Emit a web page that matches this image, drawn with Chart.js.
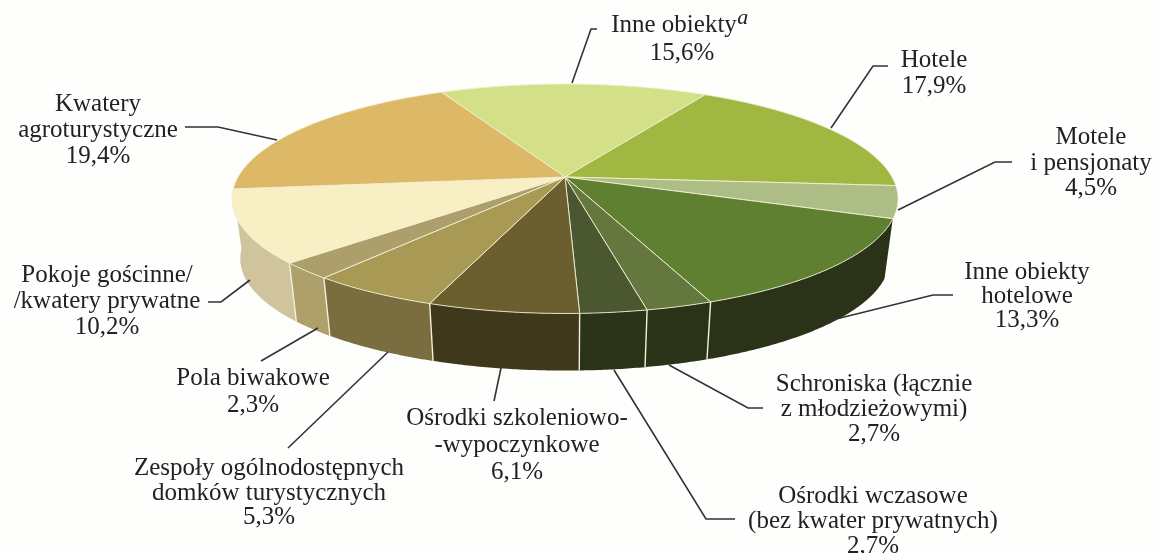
<!DOCTYPE html>
<html>
<head>
<meta charset="utf-8">
<title>Struktura obiektów</title>
<script src="https://cdn.jsdelivr.net/npm/chart.js@4/dist/chart.umd.min.js"></script>
<style>
  html, body { margin: 0; padding: 0; background: #fefefc; overflow: hidden; }
  canvas { display: block; }
</style>
</head>
<body>
<canvas id="pieChart" width="1156" height="553"></canvas>
<script>
const categories = [
  "Inne obiekty", "Hotele", "Motele i pensjonaty", "Inne obiekty hotelowe",
  "Schroniska (łącznie z młodzieżowymi)", "Ośrodki wczasowe (bez kwater prywatnych)",
  "Ośrodki szkoleniowo-wypoczynkowe", "Zespoły ogólnodostępnych domków turystycznych",
  "Pola biwakowe", "Pokoje gościnne/kwatery prywatne", "Kwatery agroturystyczne"
];
const shares = [15.6, 17.9, 4.5, 13.3, 2.7, 2.7, 6.1, 5.3, 2.3, 10.2, 19.4];
const labelLines = [
  ["Inne obiekty"], ["Hotele"], ["Motele", "i pensjonaty"], ["Inne obiekty", "hotelowe"],
  ["Schroniska (łącznie", "z młodzieżowymi)"], ["Ośrodki wczasowe", "(bez kwater prywatnych)"],
  ["Ośrodki szkoleniowo-", "-wypoczynkowe"], ["Zespoły ogólnodostępnych", "domków turystycznych"],
  ["Pola biwakowe"], ["Pokoje gościnne/", "/kwatery prywatne"], ["Kwatery", "agroturystyczne"]
];
const topColors = ["#d3e087", "#a0b842", "#acbd85", "#5e8030", "#64773f", "#4a5730",
  "#6b5f30", "#a89a55", "#ad9f6c", "#f8efc4", "#ddb866"];
const sideColors = ["#b8c470", "#7f9434", "#8a9a68", "#2a3318", "#2a3318", "#2a3318",
  "#40381a", "#7a6d40", "#ada06a", "#cfc49c", "#b89a50"];

// label placement: text centre x, first baseline, line step
const labelPos = [
  [682, 32, 28], [934, 67, 26], [1091, 144, 25.5], [1027, 279, 24],
  [874, 391, 25], [873, 503, 25], [517, 425, 27], [269, 475, 24.5],
  [253, 385, 27], [107, 282, 26], [98, 111, 26]
];
// leader lines
const leaders = [
  [[572, 83], [591, 29], [597, 29]],
  [[831, 128], [873, 66], [888, 66]],
  [[898, 210], [995, 162], [1012, 162]],
  [[828, 321], [933, 295], [953, 295]],
  [[669, 365], [748, 408], [763, 408]],
  [[614, 370], [706, 519], [735, 519]],
  [[501, 368], [494, 401]],
  [[388, 352], [288, 448]],
  [[318, 328], [261, 361]],
  [[250, 280], [221, 302], [208, 302]],
  [[277, 140], [218, 127], [185, 127]]
];

// perspective of the disc
const apexX = 565, apexY = 177;
const persp = 0.1895, scaleX = 327, scaleY = 110.6;
const midY = 198.5, shrink = 0.975, drop = 60;
const wallFrom = 110.8, wallTo = 264; // degrees clockwise from top, visible walls

function rim(a) {
  const x = Math.cos(a), y = Math.sin(a), w = 1 - persp * y;
  return [apexX + scaleX * x / w, apexY + scaleY * y / w];
}
function low(p) {
  return [apexX + (p[0] - apexX) * shrink, midY + (p[1] - midY) * shrink + drop];
}
function arcPts(a0, a1) {
  const pts = [], n = Math.max(2, Math.ceil((a1 - a0) / 0.008));
  for (let i = 0; i <= n; i++) pts.push(rim(a0 + (a1 - a0) * i / n));
  return pts;
}
function poly(ctx, pts) {
  pts.forEach((p, i) => i ? ctx.lineTo(p[0], p[1]) : ctx.moveTo(p[0], p[1]));
}

const disc3d = {
  id: "disc3d",
  beforeDatasetsDraw(chart) {
    const ctx = chart.ctx, arcs = chart.getDatasetMeta(0).data;
    const wallStart = (wallFrom - 90) * Math.PI / 180;
    const wallEnd = (wallTo - 90) * Math.PI / 180;
    ctx.save();
    // side walls
    arcs.forEach((arc, i) => {
      const a0 = Math.max(arc.startAngle, wallStart), a1 = Math.min(arc.endAngle, wallEnd);
      if (a1 <= a0) return;
      const topPts = arcPts(a0, a1);
      ctx.beginPath();
      poly(ctx, topPts.concat(topPts.slice().reverse().map(low)));
      ctx.closePath();
      ctx.fillStyle = sideColors[i];
      ctx.fill();
    });
    ctx.strokeStyle = "#f2efd8";
    ctx.lineWidth = 1.4;
    arcs.forEach(arc => {
      const a = arc.startAngle;
      if (a < wallStart + 0.01 || a > wallEnd - 0.01) return;
      const p = rim(a), q = low(p);
      ctx.beginPath();
      ctx.moveTo(p[0], p[1]);
      ctx.lineTo(q[0], q[1]);
      ctx.stroke();
    });
    // top face
    arcs.forEach((arc, i) => {
      ctx.beginPath();
      poly(ctx, [[apexX, apexY]].concat(arcPts(arc.startAngle, arc.endAngle)));
      ctx.closePath();
      ctx.fillStyle = topColors[i];
      ctx.fill();
      ctx.strokeStyle = "#f2efd0";
      ctx.lineWidth = 0.9;
      ctx.stroke();
    });
    ctx.restore();
    return false;
  },
  afterDraw(chart) {
    const ctx = chart.ctx;
    ctx.save();
    ctx.strokeStyle = "#333333";
    ctx.lineWidth = 1.6;
    leaders.forEach(l => { ctx.beginPath(); poly(ctx, l); ctx.stroke(); });

    ctx.fillStyle = "#222222";
    ctx.textAlign = "center";
    ctx.textBaseline = "alphabetic";
    const font = '25px "Liberation Serif"';
    shares.forEach((v, i) => {
      const pos = labelPos[i];
      const lines = labelLines[i].concat(v.toFixed(1).replace(".", ",") + "%");
      lines.forEach((t, k) => {
        ctx.font = font;
        if (i === 0 && k === 0) {
          // superscript footnote mark
          const w = ctx.measureText(t).width;
          ctx.fillText(t, pos[0] - 8, pos[1]);
          ctx.font = 'italic 22px "Liberation Serif"';
          ctx.fillText("a", pos[0] - 8 + w / 2 + 6, pos[1] - 8);
        } else {
          ctx.fillText(t, pos[0], pos[1] + k * pos[2]);
        }
      });
    });
    ctx.restore();
  }
};

new Chart(document.getElementById("pieChart").getContext("2d"), {
  type: "pie",
  data: {
    labels: categories,
    datasets: [{ data: shares, backgroundColor: topColors, borderWidth: 0 }]
  },
  options: {
    responsive: false,
    animation: false,
    rotation: -26.2,
    plugins: { legend: { display: false }, tooltip: { enabled: false } }
  },
  plugins: [disc3d]
});
</script>
</body>
</html>
